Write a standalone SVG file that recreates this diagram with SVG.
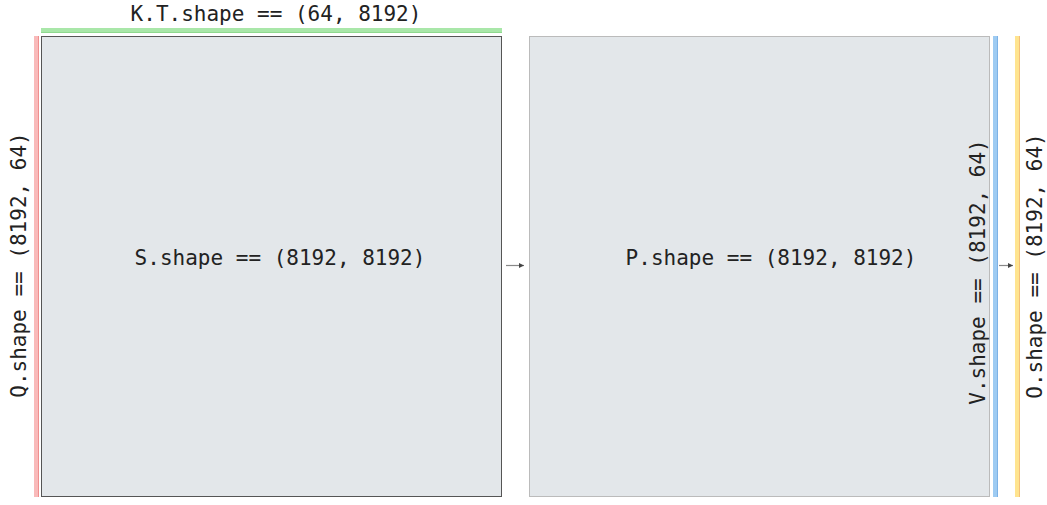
<svg xmlns="http://www.w3.org/2000/svg" width="1047" height="505" viewBox="0 0 1047 505">
<style>
  text { font-family: "DejaVu Sans Mono", "Liberation Mono", monospace; font-size: 21px; fill: #222; }
  .box { fill: #e3e7ea; }
  .edge { stroke: #888; stroke-width: 1.2; fill: none; }
</style>
<defs>
  <marker id="ah" markerWidth="6" markerHeight="6" refX="5" refY="3" orient="auto" markerUnits="userSpaceOnUse">
    <path d="M0,0.5 L5,3 L0,5.5 Z" fill="#444"/>
  </marker>
</defs>
<rect width="1047" height="505" fill="#fff"/>
<g id="K">
  <rect x="41" y="28" width="461" height="5" fill="#a9e7a9"/>
  <rect x="41" y="32" width="461" height="1" fill="#8fd98f"/>
  <text x="276" y="21" text-anchor="middle">K.T.shape == (64, 8192)</text>
</g>
<g id="Q">
  <rect x="34" y="36" width="5" height="461" fill="#f9baba"/>
  <rect x="38" y="36" width="1" height="461" fill="#ef8f8f"/>
  <text transform="translate(26,265) rotate(-90)" text-anchor="middle">Q.shape == (8192, 64)</text>
</g>
<g id="S">
  <rect class="box" x="41.5" y="36.5" width="460" height="460" stroke="#555" stroke-width="1"/>
  <text x="280" y="265" text-anchor="middle">S.shape == (8192, 8192)</text>
</g>
<g id="P">
  <rect class="box" x="529.5" y="36.5" width="460" height="460" stroke="#bbb" stroke-width="1"/>
  <text x="771" y="265" text-anchor="middle">P.shape == (8192, 8192)</text>
  <text transform="translate(985,272) rotate(-90)" text-anchor="middle">V.shape == (8192, 64)</text>
</g>
<g id="V">
  <rect x="993" y="36" width="5" height="461" fill="#9ecbf2"/>
  <rect x="997" y="36" width="1" height="461" fill="#7db2e6"/>
</g>
<g id="O">
  <rect x="1015" y="36" width="5" height="461" fill="#ffe48f"/>
  <rect x="1019" y="36" width="1" height="461" fill="#f3c07a"/>
  <text transform="translate(1042,266) rotate(-90)" text-anchor="middle">O.shape == (8192, 64)</text>
</g>
<g id="connectors">
  <line class="edge" x1="506" y1="265.5" x2="524" y2="265.5" marker-end="url(#ah)"/>
  <line class="edge" x1="999" y1="265.5" x2="1013" y2="265.5" marker-end="url(#ah)"/>
</g>
</svg>
